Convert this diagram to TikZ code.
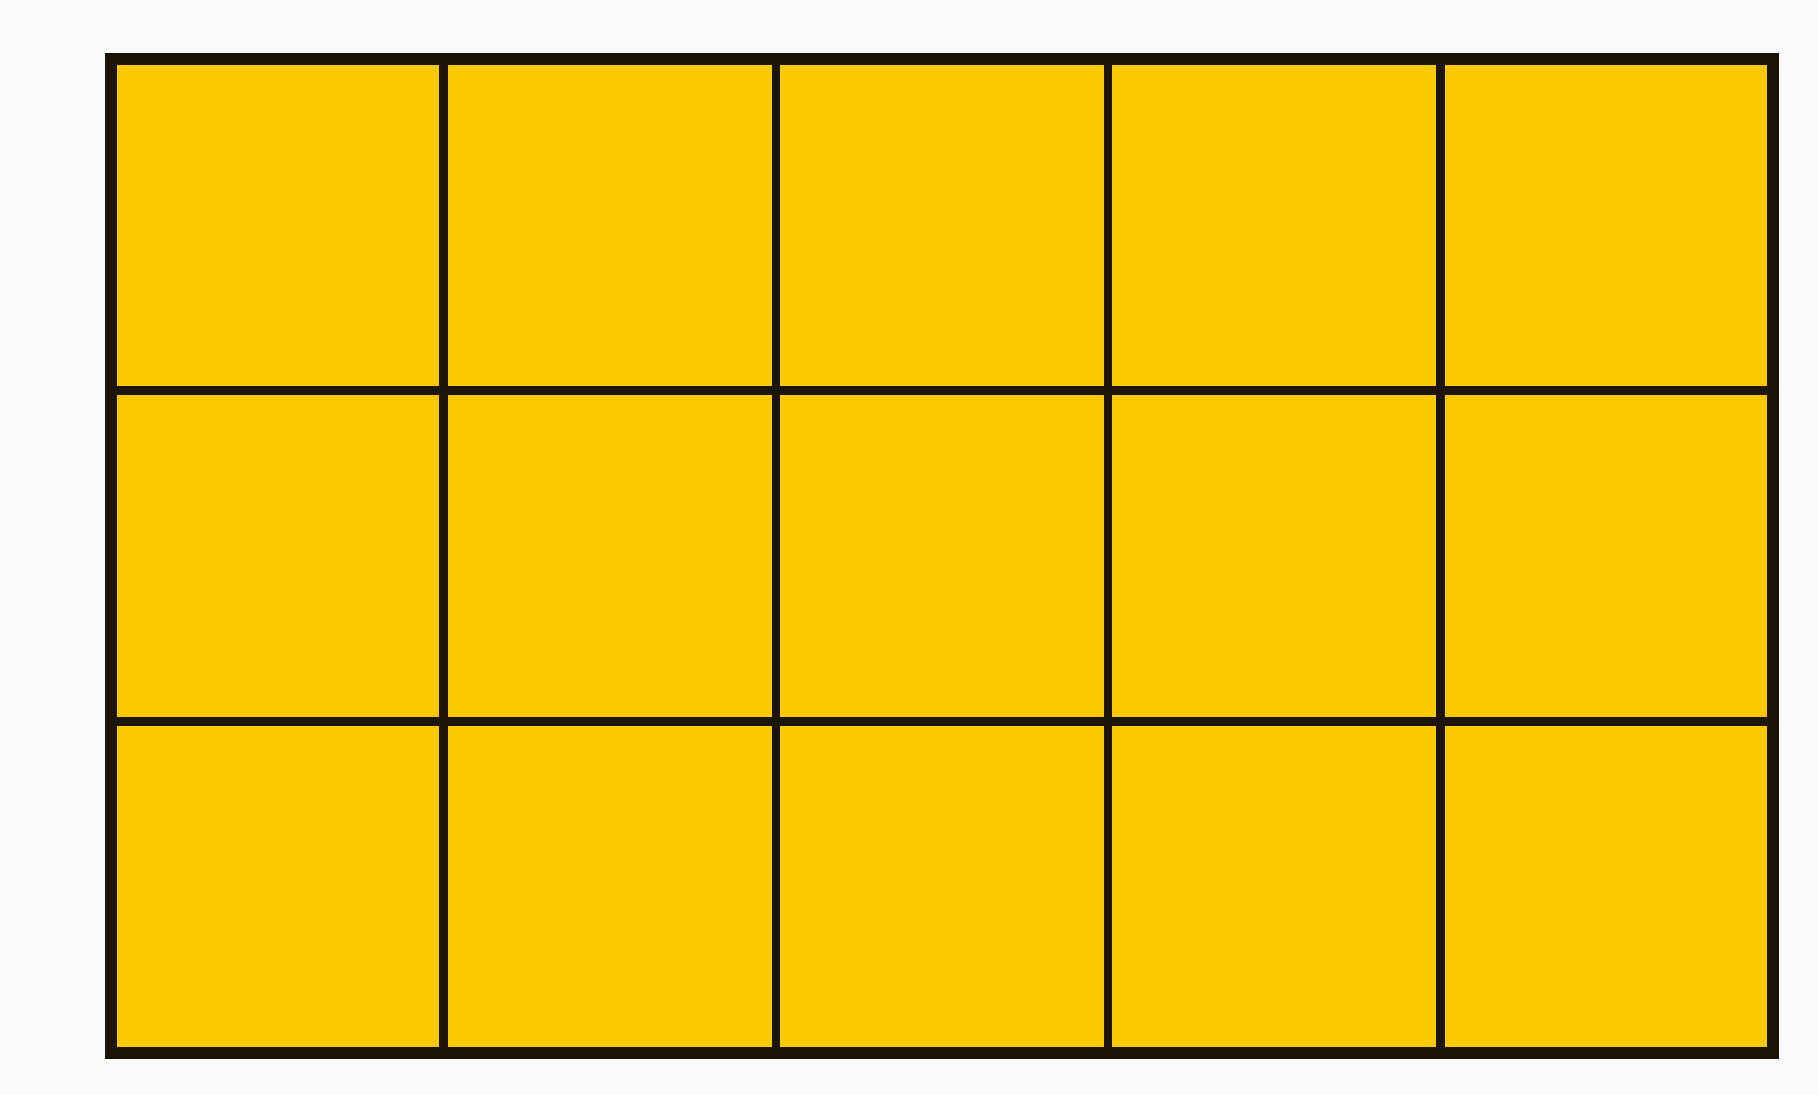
\documentclass[tikz,border=0pt]{standalone}
\definecolor{fillyellow}{RGB}{250,201,0}
\definecolor{gridline}{RGB}{28,20,8}
\definecolor{bg}{RGB}{250,250,250}
\begin{document}
\begin{tikzpicture}[x=0.01cm,y=-0.01cm,
  outer/.style={draw=gridline,line width=0.12cm,fill=fillyellow},
  inner/.style={draw=gridline,line width=0.085cm}]
\fill[bg] (0,0) rectangle (1818,1095);
\useasboundingbox (0,0) rectangle (1818,1095);
\path[outer] (111,59) rectangle (1773,1053);
\foreach \x in {443.4,775.8,1108.2,1440.6}
  \draw[inner] (\x,59) -- (\x,1053);
\foreach \y in {390.3,721.7}
  \draw[inner] (111,\y) -- (1773,\y);
\draw[draw=gridline,line width=0.12cm] (111,59) rectangle (1773,1053);
\end{tikzpicture}
\end{document}
